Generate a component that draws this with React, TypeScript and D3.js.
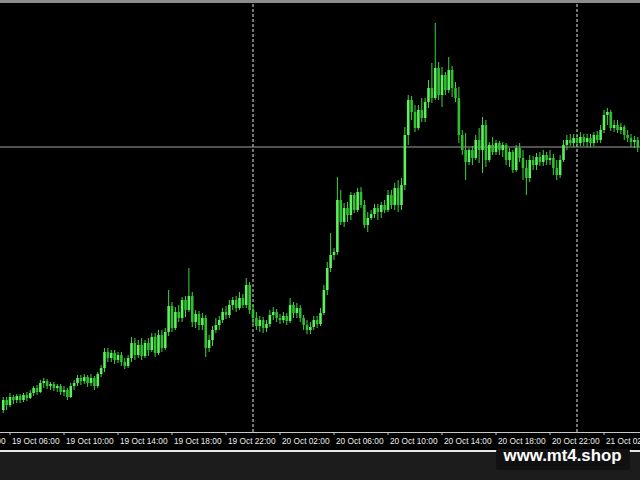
import React from 'react';
import * as d3 from 'd3';

const W = 640;
const H = 480;

// M15 bars, the first one opening 19 Oct 05:30
const firstBar = new Date(2020, 9, 19, 5, 30);

const opens = [
1.3022,1.3032,1.3027,1.3035,1.3032,1.3036,1.3032,1.3037,1.3034,1.3039,
1.3044,1.3040,1.3049,1.3051,1.3046,1.3048,1.3044,1.3046,1.3040,1.3042,
1.3035,1.3046,1.3049,1.3054,1.3051,1.3055,1.3049,1.3054,1.3046,1.3058,
1.3064,1.3080,1.3074,1.3079,1.3072,1.3077,1.3070,1.3066,1.3074,1.3089,
1.3077,1.3087,1.3076,1.3089,1.3082,1.3095,1.3079,1.3097,1.3084,1.3100,
1.3126,1.3104,1.3120,1.3114,1.3132,1.3122,1.3136,1.3110,1.3118,1.3107,
1.3114,1.3084,1.3092,1.3102,1.3107,1.3112,1.3120,1.3117,1.3127,1.3132,
1.3124,1.3134,1.3127,1.3147,1.3122,1.3114,1.3106,1.3112,1.3104,1.3108,
1.3117,1.3120,1.3114,1.3112,1.3116,1.3111,1.3127,1.3119,1.3124,1.3114,
1.3107,1.3102,1.3105,1.3112,1.3108,1.3119,1.3142,1.3164,1.3177,1.3180,
1.3232,1.3210,1.3224,1.3217,1.3237,1.3222,1.3240,1.3227,1.3207,1.3214,
1.3218,1.3224,1.3220,1.3227,1.3222,1.3237,1.3227,1.3244,1.3227,1.3247,
1.3297,1.3332,1.3320,1.3304,1.3322,1.3314,1.3330,1.3344,1.3334,1.3364,
1.3337,1.3357,1.3342,1.3362,1.3344,1.3334,1.3297,1.3282,1.3270,1.3282,
1.3274,1.3292,1.3282,1.3307,1.3272,1.3287,1.3280,1.3289,1.3282,1.3287,
1.3272,1.3280,1.3262,1.3284,1.3274,1.3264,1.3254,1.3272,1.3267,1.3275,
1.3270,1.3277,1.3272,1.3274,1.3264,1.3257,1.3272,1.3287,1.3292,1.3289,
1.3294,1.3289,1.3295,1.3290,1.3294,1.3289,1.3297,1.3292,1.3302,1.3317,
1.3320,1.3304,1.3307,1.3302,1.3305,1.3297,1.3294,1.3290,1.3292
];

const closes = [
1.3032,1.3027,1.3035,1.3032,1.3036,1.3032,1.3037,1.3034,1.3039,1.3044,
1.3040,1.3049,1.3051,1.3046,1.3048,1.3044,1.3046,1.3040,1.3042,1.3035,
1.3046,1.3049,1.3054,1.3051,1.3055,1.3049,1.3054,1.3046,1.3058,1.3064,
1.3080,1.3074,1.3079,1.3072,1.3077,1.3070,1.3066,1.3074,1.3089,1.3077,
1.3087,1.3076,1.3089,1.3082,1.3095,1.3079,1.3097,1.3084,1.3100,1.3126,
1.3104,1.3120,1.3114,1.3132,1.3122,1.3136,1.3110,1.3118,1.3107,1.3114,
1.3084,1.3092,1.3102,1.3107,1.3112,1.3120,1.3117,1.3127,1.3132,1.3124,
1.3134,1.3127,1.3147,1.3122,1.3114,1.3106,1.3112,1.3104,1.3108,1.3117,
1.3120,1.3114,1.3112,1.3116,1.3111,1.3127,1.3119,1.3124,1.3114,1.3107,
1.3102,1.3105,1.3112,1.3108,1.3119,1.3142,1.3164,1.3177,1.3180,1.3232,
1.3210,1.3224,1.3217,1.3237,1.3222,1.3240,1.3227,1.3207,1.3214,1.3218,
1.3224,1.3220,1.3227,1.3222,1.3237,1.3227,1.3244,1.3227,1.3247,1.3297,
1.3332,1.3320,1.3304,1.3322,1.3314,1.3330,1.3344,1.3334,1.3364,1.3337,
1.3357,1.3342,1.3362,1.3344,1.3334,1.3297,1.3282,1.3270,1.3282,1.3274,
1.3292,1.3282,1.3307,1.3272,1.3287,1.3280,1.3289,1.3282,1.3287,1.3272,
1.3280,1.3262,1.3284,1.3274,1.3264,1.3254,1.3272,1.3267,1.3275,1.3270,
1.3277,1.3272,1.3274,1.3264,1.3257,1.3272,1.3287,1.3292,1.3289,1.3294,
1.3289,1.3295,1.3290,1.3294,1.3289,1.3297,1.3292,1.3302,1.3317,1.3320,
1.3304,1.3307,1.3302,1.3305,1.3297,1.3294,1.3290,1.3292,1.3285
];

const highs = [
1.3035,1.3035,1.3039,1.3037,1.3038,1.3038,1.3039,1.3040,1.3042,1.3046,
1.3047,1.3052,1.3054,1.3053,1.3050,1.3050,1.3048,1.3048,1.3046,1.3044,
1.3049,1.3052,1.3057,1.3057,1.3058,1.3057,1.3058,1.3056,1.3060,1.3067,
1.3084,1.3084,1.3082,1.3082,1.3080,1.3080,1.3074,1.3077,1.3095,1.3094,
1.3092,1.3094,1.3092,1.3094,1.3099,1.3099,1.3102,1.3102,1.3104,1.3142,
1.3130,1.3125,1.3127,1.3135,1.3136,1.3164,1.3140,1.3122,1.3121,1.3119,
1.3117,1.3097,1.3106,1.3114,1.3116,1.3124,1.3126,1.3132,1.3135,1.3136,
1.3140,1.3138,1.3154,1.3150,1.3127,1.3120,1.3116,1.3115,1.3112,1.3122,
1.3125,1.3123,1.3118,1.3120,1.3119,1.3134,1.3130,1.3129,1.3127,1.3117,
1.3112,1.3110,1.3116,1.3116,1.3124,1.3147,1.3170,1.3199,1.3184,1.3255,
1.3242,1.3229,1.3230,1.3240,1.3239,1.3244,1.3245,1.3232,1.3220,1.3222,
1.3228,1.3228,1.3230,1.3232,1.3242,1.3242,1.3249,1.3252,1.3254,1.3305,
1.3337,1.3336,1.3327,1.3327,1.3334,1.3334,1.3352,1.3369,1.3409,1.3370,
1.3365,1.3360,1.3375,1.3366,1.3350,1.3345,1.3302,1.3299,1.3284,1.3286,
1.3297,1.3304,1.3315,1.3312,1.3290,1.3295,1.3292,1.3291,1.3290,1.3289,
1.3284,1.3282,1.3287,1.3289,1.3282,1.3272,1.3277,1.3276,1.3279,1.3280,
1.3282,1.3280,1.3282,1.3278,1.3272,1.3277,1.3292,1.3297,1.3298,1.3298,
1.3297,1.3300,1.3298,1.3298,1.3298,1.3300,1.3301,1.3307,1.3322,1.3324,
1.3322,1.3312,1.3312,1.3309,1.3307,1.3302,1.3298,1.3296,1.3295
];

const lows = [
1.3019,1.3022,1.3025,1.3028,1.3029,1.3029,1.3030,1.3031,1.3033,1.3036,
1.3037,1.3039,1.3044,1.3043,1.3042,1.3041,1.3040,1.3037,1.3036,1.3032,
1.3034,1.3042,1.3046,1.3047,1.3048,1.3045,1.3046,1.3042,1.3044,1.3055,
1.3060,1.3070,1.3070,1.3068,1.3069,1.3066,1.3063,1.3064,1.3070,1.3072,
1.3074,1.3072,1.3074,1.3076,1.3080,1.3075,1.3077,1.3080,1.3082,1.3096,
1.3100,1.3102,1.3110,1.3110,1.3115,1.3120,1.3105,1.3104,1.3102,1.3102,
1.3075,1.3080,1.3086,1.3099,1.3102,1.3109,1.3113,1.3114,1.3122,1.3120,
1.3122,1.3124,1.3124,1.3118,1.3107,1.3102,1.3100,1.3099,1.3100,1.3105,
1.3112,1.3110,1.3108,1.3109,1.3107,1.3109,1.3114,1.3114,1.3110,1.3102,
1.3098,1.3098,1.3102,1.3104,1.3106,1.3117,1.3137,1.3160,1.3172,1.3177,
1.3207,1.3205,1.3210,1.3212,1.3219,1.3220,1.3224,1.3204,1.3200,1.3212,
1.3214,1.3212,1.3214,1.3219,1.3220,1.3223,1.3222,1.3220,1.3222,1.3242,
1.3287,1.3312,1.3300,1.3302,1.3310,1.3310,1.3324,1.3329,1.3332,1.3332,
1.3325,1.3337,1.3339,1.3335,1.3330,1.3289,1.3277,1.3252,1.3267,1.3267,
1.3272,1.3269,1.3259,1.3265,1.3270,1.3277,1.3277,1.3277,1.3275,1.3267,
1.3265,1.3259,1.3260,1.3270,1.3252,1.3237,1.3250,1.3262,1.3262,1.3266,
1.3266,1.3267,1.3267,1.3257,1.3252,1.3254,1.3270,1.3282,1.3286,1.3285,
1.3285,1.3286,1.3286,1.3285,1.3285,1.3286,1.3289,1.3289,1.3299,1.3307,
1.3301,1.3300,1.3299,1.3298,1.3292,1.3290,1.3285,1.3284,1.3280
];

const fmt = d3.timeFormat('%d %b %H:%M');

export default function App() {
  const plotBottom = 432;
  const x = d3.scaleTime()
    .domain([new Date(2020, 9, 19, 6, 0), new Date(2020, 9, 21, 2, 0)])
    .range([10, 604]);
  const y = d3.scaleLinear().domain([1.3, 1.3432]).range([plotBottom, 0]);
  const bars = closes.map((c, i) => ({
    t: d3.timeMinute.offset(firstBar, 15 * i),
    o: opens[i], h: highs[i], l: lows[i], c,
  }));
  const ticks = d3.timeHour.range(new Date(2020, 9, 19, 2, 0), new Date(2020, 9, 21, 6, 1), 4);
  const days = d3.timeDay.range(new Date(2020, 9, 19, 1), new Date(2020, 9, 21, 5));
  const last = closes[closes.length - 1];
  const bw = 2.6;
  return (
    <svg width={W} height={H} style={{ position: 'absolute', left: 0, top: 0, display: 'block' }}
      fontFamily="'Liberation Sans', Arial, sans-serif">
      <rect x={0} y={0} width={W} height={H} fill="#000" />
      <rect x={0} y={0} width={W} height={3} fill="#8c8c8c" />
      {days.map((d, i) => (
        <line key={'d' + i} x1={x(d)} x2={x(d)} y1={4} y2={plotBottom} stroke="#e4e4e4"
          strokeWidth={1} strokeDasharray="3,2" />
      ))}
      <line x1={0} x2={W} y1={y(last)} y2={y(last)} stroke="#a0a0a0" strokeWidth={1} />
      {bars.map((b, i) => {
        const cx = x(b.t);
        const top = y(Math.max(b.o, b.c));
        const bot = y(Math.min(b.o, b.c));
        const up = b.c >= b.o;
        return (
          <g key={i}>
            <line x1={cx} x2={cx} y1={y(b.h)} y2={y(b.l)} stroke="#3fd43f" strokeWidth={1} />
            <rect x={cx - bw / 2} y={top} width={bw} height={Math.max(1, bot - top)}
              fill={up ? '#5cf05c' : '#2fbf2f'} />
          </g>
        );
      })}
      <line x1={0} x2={W} y1={plotBottom + 0.5} y2={plotBottom + 0.5} stroke="#c8c8c8" strokeWidth={1} />
      {ticks.map((t, i) => (
        <g key={'t' + i}>
          <line x1={x(t)} x2={x(t)} y1={plotBottom} y2={plotBottom + 3} stroke="#c8c8c8" />
          <text x={x(t) + 2} y={444} fill="#ececec" fontSize={8.3}>{fmt(t)}</text>
        </g>
      ))}
      <rect x={0} y={450} width={W} height={2} fill="#e8e8e8" />
      <rect x={0} y={452} width={W} height={H - 452} fill="#1c1c1c" />
      <rect x={496} y={449} width={134} height={21} rx={3} fill="#111" />
      <text x={562.5} y={461} textAnchor="middle" fill="#fff" fontSize={16.8}
        fontWeight="bold">www.mt4.shop</text>
    </svg>
  );
}
